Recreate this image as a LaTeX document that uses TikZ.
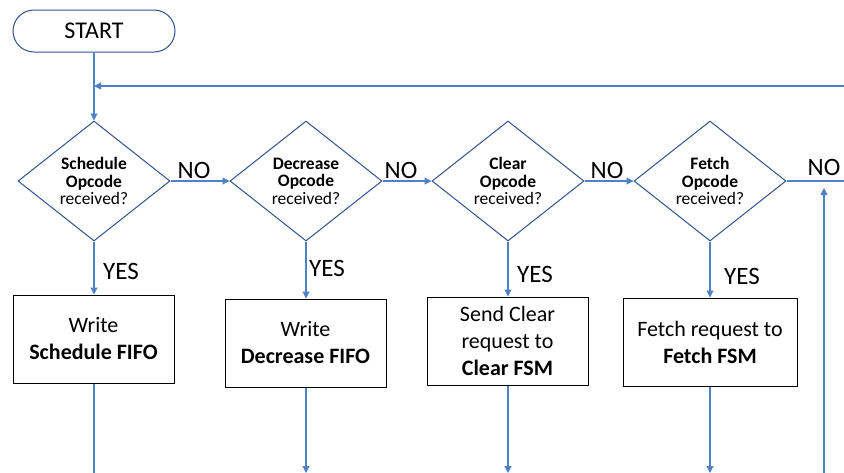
\documentclass[tikz,border=0pt]{standalone}
\usepackage{fontspec}
\setmainfont{Carlito}
\usetikzlibrary{shapes.geometric,arrows.meta}
\definecolor{conn}{HTML}{4F81C4}
\definecolor{dborder}{HTML}{2F528F}
\tikzset{
  conline/.style={draw=conn, line width=1.1pt},
  arr/.style={conline, -{Triangle[length=7pt,width=7pt]}},
  decision/.style={diamond, draw=dborder, line width=1pt, minimum width=152pt, minimum height=120pt, inner sep=0pt, align=center, font=\fontsize{17.5}{17.5}\selectfont},
  procbox/.style={rectangle, draw=black, line width=1pt, minimum width=161pt, minimum height=88pt, inner sep=0pt, align=center, font=\fontsize{22}{27}\selectfont},
  startbox/.style={rectangle, rounded corners=21pt, draw=dborder, line width=1pt, minimum width=162pt, minimum height=42pt, font=\fontsize{24}{28}\selectfont},
  lbl/.style={font=\fontsize{25}{28}\selectfont, inner sep=0pt}
}
\begin{document}
\begin{tikzpicture}[x=1pt,y=-1pt]
\useasboundingbox (0,0) rectangle (844,472);
\node[startbox] (start) at (94,31) {START};
\node[decision] (d1) at (94,181) {\textbf{Schedule}\\\textbf{Opcode}\\received?};
\node[decision] (d2) at (306,181) {\textbf{Decrease}\\\textbf{Opcode}\\received?};
\node[decision] (d3) at (508,181) {\textbf{Clear}\\\textbf{Opcode}\\received?};
\node[decision] (d4) at (710,181) {\textbf{Fetch}\\\textbf{Opcode}\\received?};
\node[procbox] (b1) at (93.5,339) {Write\\\textbf{Schedule FIFO}};
\node[procbox] (b2) at (305.5,343) {Write\\\textbf{Decrease FIFO}};
\node[procbox] (b3) at (507.5,341) {Send Clear\\request to\\\textbf{Clear FSM}};
\node[procbox, minimum width=174pt] (b4) at (710,342) {Fetch request to\\\textbf{Fetch FSM}};
\coordinate (loopin) at (94,86);
\coordinate (loopright) at (845,86);
\coordinate (nright) at (845,181);
\coordinate (rbot) at (824,473);
\coordinate (rtop) at (824,188);
\coordinate (e1) at (94,473);
\coordinate (e2) at (306,473);
\coordinate (e3) at (508,473);
\coordinate (e4) at (710,473);
\draw[arr] (start.south) -- (d1.north);
\draw[arr] (loopright) -- (loopin);
\draw[arr] (d1.east) -- (d2.west);
\draw[arr] (d2.east) -- (d3.west);
\draw[arr] (d3.east) -- (d4.west);
\draw[conline] (d4.east) -- (nright);
\draw[arr] (d1.south) -- (b1.north -| d1.south);
\draw[arr] (d2.south) -- (b2.north -| d2.south);
\draw[arr] (d3.south) -- (b3.north -| d3.south);
\draw[arr] (d4.south) -- (b4.north -| d4.south);
\draw[conline] (b1.south -| d1.south) -- (e1);
\draw[arr] (b2.south -| d2.south) -- (e2);
\draw[arr] (b3.south -| d3.south) -- (e3);
\draw[arr] (b4.south -| d4.south) -- (e4);
\draw[arr] (rbot) -- (rtop);
\node[lbl] (no1) at (194,170) {NO};
\node[lbl] (no2) at (401,170) {NO};
\node[lbl] (no3) at (607,170) {NO};
\node[lbl] (no4) at (824,167) {NO};
\node[lbl] (y1) at (121,271) {YES};
\node[lbl] (y2) at (327,268) {YES};
\node[lbl] (y3) at (535,274) {YES};
\node[lbl] (y4) at (742,276) {YES};
\end{tikzpicture}
\end{document}
